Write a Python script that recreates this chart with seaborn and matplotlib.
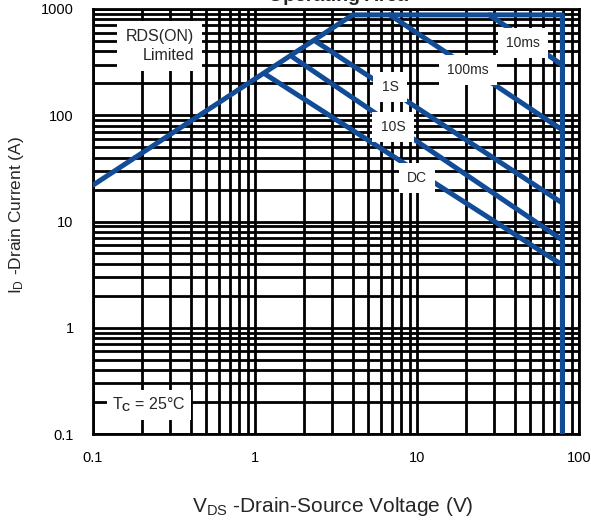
import matplotlib
matplotlib.use("Agg")
import matplotlib.pyplot as plt
import seaborn as sns
import pandas as pd

# ---- data ----
boundary_v = [0.1, 4.0, 79, 79]
boundary_i = [22, 880, 880, 0.1]

curve_names = ["10ms", "100ms", "1S", "10S", "DC"]
curve_v = {
    "10ms": [28, 79],
    "100ms": [6.8, 79],
    "1S": [2.35, 79],
    "10S": [1.72, 79],
    "DC": [1.15, 79],
}
curve_i = {
    "10ms": [880, 297],
    "100ms": [880, 72.6],
    "1S": [500, 14.9],
    "10S": [350, 6.7],
    "DC": [245, 3.9],
}

x_ticks = [0.1, 1, 10, 100]
x_tick_labels = ["0.1", "1", "10", "100"]
y_ticks = [0.1, 1, 10, 100, 1000]
y_tick_labels = ["0.1", "1", "10", "100", "1000"]

# ---- style ----
sns.set_theme(style="white")
plt.rcParams["font.family"] = ["Liberation Sans", "DejaVu Sans"]
plt.rcParams["mathtext.fontset"] = "custom"
plt.rcParams["mathtext.rm"] = "Liberation Sans"
plt.rcParams["mathtext.bf"] = "Liberation Sans:bold"

BLUE = "#134c96"

fig = plt.figure(figsize=(5.91, 5.21), dpi=100)
ax = fig.add_axes([93 / 591, 1 - 434 / 521, (579 - 93) / 591, (434 - 9) / 521])

ax.set_xscale("log")
ax.set_yscale("log")
ax.set_xlim(0.1, 100)
ax.set_ylim(0.1, 1000)

ax.grid(which="both", color="black", linewidth=2.0, zorder=1)
ax.set_axisbelow(True)

# boundary (RDS(on) limit, current limit, voltage limit)
df_b = pd.DataFrame({"V": boundary_v, "I": boundary_i})
sns.lineplot(data=df_b, x="V", y="I", sort=False, estimator=None,
             color=BLUE, linewidth=3.6, ax=ax, zorder=3)

for name in curve_names:
    df_c = pd.DataFrame({"V": curve_v[name], "I": curve_i[name]})
    sns.lineplot(data=df_c, x="V", y="I", sort=False, estimator=None,
                 color=BLUE, linewidth=3.6, ax=ax, zorder=3)

ax.set_xticks(x_ticks)
ax.set_xticklabels(x_tick_labels)
ax.set_yticks(y_ticks)
ax.set_yticklabels(y_tick_labels)
ax.tick_params(which="both", length=0, labelsize=10.5, colors="black")
ax.tick_params(axis="x", pad=12)
ax.tick_params(axis="y", pad=14)

for s in ax.spines.values():
    s.set_color("black")
    s.set_linewidth(2.0)

ax.set_xlabel(r"$\mathregular{V_{DS}}$ -Drain-Source Voltage (V)", fontsize=15)
ax.xaxis.set_label_coords((333 - 93) / 486, 1 - (495 - 9) / 425)
ax.set_ylabel(r"$\mathregular{I_D}$ -Drain Current (A)", fontsize=12.5)
ax.yaxis.set_label_coords((26 - 93) / 486, 1 - (215 - 9) / 425)

def px(xp, yp):
    return (xp - 93) / (579 - 93), 1 - (yp - 9) / (434 - 9)

label_pos = {
    "10ms": (523, 43),
    "100ms": (468, 70),
    "1S": (390, 87),
    "10S": (393, 127),
    "DC": (417, 178),
}
for name in curve_names:
    xa, ya = px(*label_pos[name])
    ax.text(xa, ya, name, transform=ax.transAxes, ha="center", va="center",
            fontsize=10, bbox=dict(facecolor="white", edgecolor="none", pad=6), zorder=5)

xa, ya = px(194, 46)
ax.text(xa, ya, "RDS(ON)\nLimited", transform=ax.transAxes, ha="right", va="center",
        multialignment="right", fontsize=11.5, linespacing=1.25,
        bbox=dict(facecolor="white", edgecolor="none", pad=6), zorder=5)

xa, ya = px(149, 405)
ax.text(xa, ya, r"T$_{\mathbf{C}}$ = 25°C", transform=ax.transAxes, ha="center", va="center",
        fontsize=11.5, bbox=dict(facecolor="white", edgecolor="none", pad=4), zorder=5)

# title, clipped at the top edge as in the reference
fig.text(338 / 591, 1 - 5 / 521, "Operating Area", ha="center", va="bottom",
         fontsize=14, fontweight="bold")

fig.savefig("out.png", dpi=100)
